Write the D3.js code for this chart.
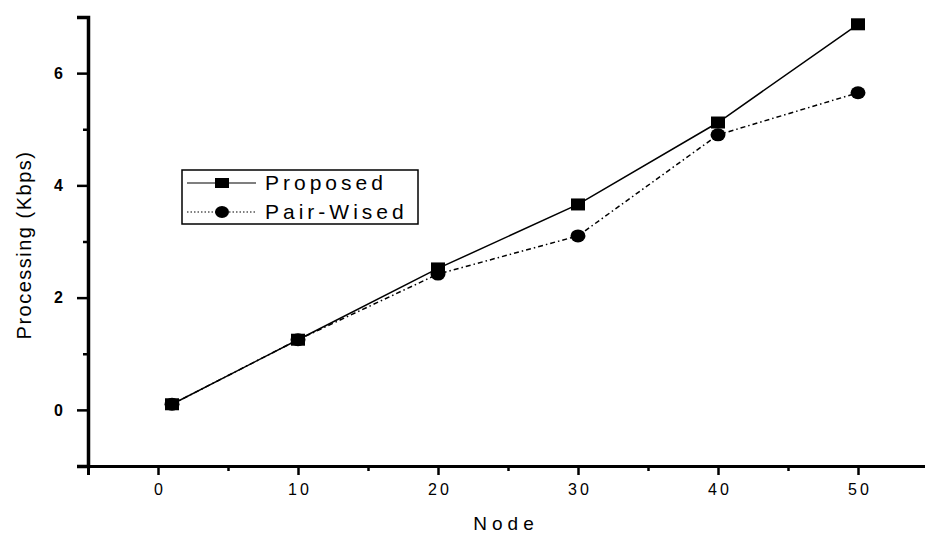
<!DOCTYPE html>
<html>
<head>
<meta charset="utf-8">
<script src="https://cdn.jsdelivr.net/npm/d3@7"></script>
<style>
  body { margin: 0; background: #fff; }
  text { font-family: "Liberation Sans", Arial, sans-serif; fill: #000; }
</style>
</head>
<body>
<div id="chart"></div>
<script>
let svgextent = [925, 534];

// data
var nodes = [1, 10, 20, 30, 40, 50];
var proposed = [0.1, 1.25, 2.52, 3.66, 5.12, 6.87];
var pairWised = [0.1, 1.25, 2.42, 3.1, 4.9, 5.65];
var xMajor = [0, 10, 20, 30, 40, 50];
var xMinor = [-5, 5, 15, 25, 35, 45, 55];
var yMajor = [0, 2, 4, 6];
var yMinor = [-1, 1, 3, 5, 7];
var seriesNames = ["Proposed", "Pair-Wised"];

var svg = d3.select("#chart").append("svg")
    .attr("width", svgextent[0])
    .attr("height", svgextent[1]);

var x = d3.scaleLinear().domain([-5, 55]).range([88, 928]);
var y = d3.scaleLinear().domain([-1, 7]).range([466, 17]);

// x axis
var gx = svg.append("g").attr("transform", "translate(0," + y(-1) + ")");
gx.call(d3.axisBottom(x).tickValues(xMajor).tickSize(9).tickPadding(9).tickFormat(d3.format("d")));
gx.append("g").call(d3.axisBottom(x).tickValues(xMinor).tickSize(5).tickFormat(""))
  .select(".domain").remove();
gx.select(".domain").attr("stroke-width", 3);
gx.selectAll(".tick line").attr("stroke-width", 2.5);
gx.selectAll(".tick text").style("font-size", "16px").style("letter-spacing", "3px")
  .attr("dx", "1.5px");

// y axis
var gy = svg.append("g").attr("transform", "translate(" + x(-5) + ",0)");
gy.call(d3.axisLeft(y).tickValues(yMajor).tickSize(11).tickPadding(14).tickFormat(d3.format("d")));
gy.append("g").call(d3.axisLeft(y).tickValues(yMinor).tickSize(5).tickFormat(""))
  .select(".domain").remove();
gy.select(".domain").attr("stroke-width", 3.5);
gy.selectAll(".tick line").attr("stroke-width", 2.5);
gy.selectAll(".tick text").style("font-size", "16px").style("font-weight", "bold");

// titles
svg.append("text")
    .attr("x", 506).attr("y", 530)
    .attr("text-anchor", "middle")
    .style("font-size", "19px")
    .style("letter-spacing", "5px")
    .text("Node");

svg.append("text")
    .attr("transform", "translate(31,245) rotate(-90)")
    .attr("text-anchor", "middle")
    .style("font-size", "20px")
    .style("letter-spacing", "1.5px")
    .text("Processing (Kbps)");

var line = d3.line()
    .x(function(d){ return x(d[0]); })
    .y(function(d){ return y(d[1]); });

var propPts = nodes.map(function(n, i){ return [n, proposed[i]]; });
var pairPts = nodes.map(function(n, i){ return [n, pairWised[i]]; });

svg.append("path")
    .attr("d", line(propPts))
    .attr("fill", "none")
    .attr("stroke", "#000")
    .attr("stroke-width", 1.5);

svg.append("path")
    .attr("d", line(pairPts))
    .attr("fill", "none")
    .attr("stroke", "#000")
    .attr("stroke-width", 1.5)
    .attr("stroke-dasharray", "5,3,1.5,3");

svg.selectAll(".sq")
    .data(propPts)
    .enter().append("rect")
    .attr("class", "sq")
    .attr("x", function(d){ return x(d[0]) - 7; })
    .attr("y", function(d){ return y(d[1]) - 6; })
    .attr("width", 14)
    .attr("height", 12)
    .attr("fill", "#000");

svg.selectAll(".ci")
    .data(pairPts)
    .enter().append("ellipse")
    .attr("class", "ci")
    .attr("cx", function(d){ return x(d[0]); })
    .attr("cy", function(d){ return y(d[1]); })
    .attr("rx", 7.5)
    .attr("ry", 6.5)
    .attr("fill", "#000");

// legend
var lg = svg.append("g").attr("transform", "translate(182,170)");
lg.append("rect")
    .attr("width", 236).attr("height", 54)
    .attr("fill", "#fff")
    .attr("stroke", "#000")
    .attr("stroke-width", 1.5);

var rows = lg.selectAll(".row")
    .data(seriesNames)
    .enter().append("g")
    .attr("transform", function(d, i){ return "translate(0," + (13 + i * 29) + ")"; });

rows.append("line")
    .attr("x1", 5).attr("x2", 74)
    .attr("stroke", "#000")
    .attr("stroke-width", 1.2)
    .attr("stroke-dasharray", function(d, i){ return i == 0 ? null : "1.5,2"; });

rows.each(function(d, i){
  var g = d3.select(this);
  if (i == 0) {
    g.append("rect").attr("x", 33).attr("y", -5).attr("width", 14).attr("height", 10).attr("fill", "#000");
  } else {
    g.append("ellipse").attr("cx", 40).attr("cy", 0).attr("rx", 7).attr("ry", 6).attr("fill", "#000");
  }
});

rows.append("text")
    .attr("x", 83).attr("y", 7)
    .style("font-size", "21px")
    .style("letter-spacing", "4px")
    .text(function(d){ return d; });
</script>
</body>
</html>
